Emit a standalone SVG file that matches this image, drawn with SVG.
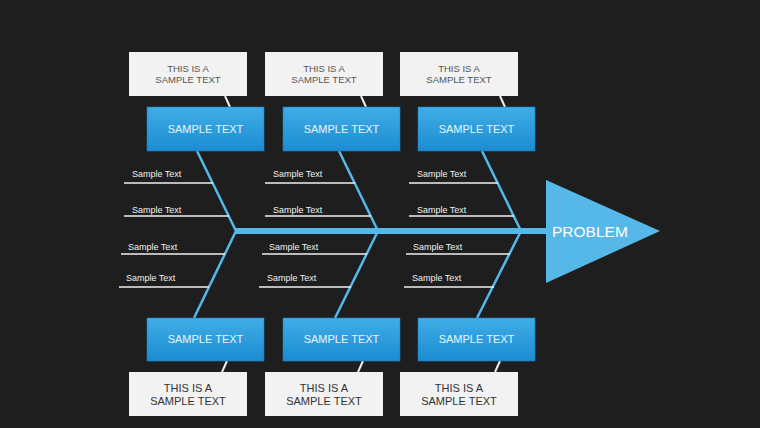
<svg xmlns="http://www.w3.org/2000/svg" width="760" height="428" viewBox="0 0 760 428">
<defs>
<linearGradient id="blueGrad" x1="0" y1="0" x2="0" y2="1">
<stop offset="0" stop-color="#40ade6"/>
<stop offset="1" stop-color="#1c8cd2"/>
</linearGradient>
<style>
.note{fill:#f2f2f2;}
.cause{fill:url(#blueGrad);stroke:#1a7fc0;stroke-width:0.6;}
.noteTxt{font-family:"Liberation Sans",Arial,sans-serif;font-size:9.5px;fill:#555;text-anchor:middle;}
.noteTxtB{font-family:"Liberation Sans",Arial,sans-serif;font-size:11px;fill:#333;text-anchor:middle;}
.causeTxt{font-family:"Liberation Sans",Arial,sans-serif;font-size:11px;fill:#e6f6ff;text-anchor:middle;}
.sub{font-family:"Liberation Sans",Arial,sans-serif;font-size:9px;fill:#f0f0f0;}
.bone{stroke:#55b8e8;stroke-width:2.5;fill:none;}
.spine{stroke:#55b8e8;stroke-width:6;fill:none;}
.tick{stroke:#f0f0f0;stroke-width:1.5;fill:none;}
.link{stroke:#f0f0f0;stroke-width:2;fill:none;}
</style>
</defs>
<rect x="0" y="0" width="760" height="428" fill="#1e1e1e"/>

<g id="connectors">
<line class="spine" x1="235" y1="231" x2="550" y2="231"/>
<polyline class="bone" points="197,151 236,231 194,318"/>
<polyline class="bone" points="339,151 378,231 335,318"/>
<polyline class="bone" points="482,151 521,231 477,318"/>
<line class="link" x1="225" y1="96" x2="230" y2="107"/>
<line class="link" x1="361" y1="96" x2="366" y2="107"/>
<line class="link" x1="500" y1="96" x2="505" y2="107"/>
<line class="link" x1="227" y1="361" x2="222" y2="372"/>
<line class="link" x1="363" y1="361" x2="358" y2="372"/>
<line class="link" x1="500" y1="361" x2="495" y2="372"/>
<line class="tick" x1="124" y1="183" x2="213" y2="183"/>
<line class="tick" x1="124" y1="216" x2="229" y2="216"/>
<line class="tick" x1="121" y1="254" x2="225" y2="254"/>
<line class="tick" x1="119" y1="287" x2="209" y2="287"/>
<line class="tick" x1="265" y1="183" x2="355" y2="183"/>
<line class="tick" x1="265" y1="216" x2="371" y2="216"/>
<line class="tick" x1="262" y1="254" x2="367" y2="254"/>
<line class="tick" x1="259" y1="287" x2="351" y2="287"/>
<line class="tick" x1="409" y1="183" x2="498" y2="183"/>
<line class="tick" x1="409" y1="216" x2="514" y2="216"/>
<line class="tick" x1="406" y1="254" x2="510" y2="254"/>
<line class="tick" x1="404" y1="287" x2="494" y2="287"/>
</g>

<g id="subs">
<text class="sub" x="132" y="177">Sample Text</text>
<text class="sub" x="132" y="213">Sample Text</text>
<text class="sub" x="128" y="250">Sample Text</text>
<text class="sub" x="126" y="281">Sample Text</text>
<text class="sub" x="273" y="177">Sample Text</text>
<text class="sub" x="273" y="213">Sample Text</text>
<text class="sub" x="269" y="250">Sample Text</text>
<text class="sub" x="267" y="281">Sample Text</text>
<text class="sub" x="417" y="177">Sample Text</text>
<text class="sub" x="417" y="213">Sample Text</text>
<text class="sub" x="413" y="250">Sample Text</text>
<text class="sub" x="412" y="281">Sample Text</text>
</g>

<g id="note-top-1"><rect class="note" x="129" y="52" width="118" height="44"/><text class="noteTxt" x="188" y="72">THIS IS A</text><text class="noteTxt" x="188" y="83">SAMPLE TEXT</text></g>
<g id="note-top-2"><rect class="note" x="265" y="52" width="118" height="44"/><text class="noteTxt" x="324" y="72">THIS IS A</text><text class="noteTxt" x="324" y="83">SAMPLE TEXT</text></g>
<g id="note-top-3"><rect class="note" x="400" y="52" width="118" height="44"/><text class="noteTxt" x="459" y="72">THIS IS A</text><text class="noteTxt" x="459" y="83">SAMPLE TEXT</text></g>

<g id="cause-top-1"><rect class="cause" x="147" y="107" width="117" height="44"/><text class="causeTxt" x="205.5" y="133">SAMPLE TEXT</text></g>
<g id="cause-top-2"><rect class="cause" x="283" y="107" width="117" height="44"/><text class="causeTxt" x="341.5" y="133">SAMPLE TEXT</text></g>
<g id="cause-top-3"><rect class="cause" x="418" y="107" width="117" height="44"/><text class="causeTxt" x="476.5" y="133">SAMPLE TEXT</text></g>

<g id="cause-bot-1"><rect class="cause" x="147" y="318" width="117" height="43"/><text class="causeTxt" x="205.5" y="343">SAMPLE TEXT</text></g>
<g id="cause-bot-2"><rect class="cause" x="283" y="318" width="117" height="43"/><text class="causeTxt" x="341.5" y="343">SAMPLE TEXT</text></g>
<g id="cause-bot-3"><rect class="cause" x="418" y="318" width="117" height="43"/><text class="causeTxt" x="476.5" y="343">SAMPLE TEXT</text></g>

<g id="note-bot-1"><rect class="note" x="129" y="372" width="118" height="44"/><text class="noteTxtB" x="188" y="392">THIS IS A</text><text class="noteTxtB" x="188" y="405">SAMPLE TEXT</text></g>
<g id="note-bot-2"><rect class="note" x="265" y="372" width="118" height="44"/><text class="noteTxtB" x="324" y="392">THIS IS A</text><text class="noteTxtB" x="324" y="405">SAMPLE TEXT</text></g>
<g id="note-bot-3"><rect class="note" x="400" y="372" width="118" height="44"/><text class="noteTxtB" x="459" y="392">THIS IS A</text><text class="noteTxtB" x="459" y="405">SAMPLE TEXT</text></g>

<g id="problem">
<polygon points="546,180 546,283 660,231" fill="#55b8e8"/>
<text x="552" y="237" font-family="'Liberation Sans',Arial,sans-serif" font-size="15.5" fill="#ffffff">PROBLEM</text>
</g>
</svg>
